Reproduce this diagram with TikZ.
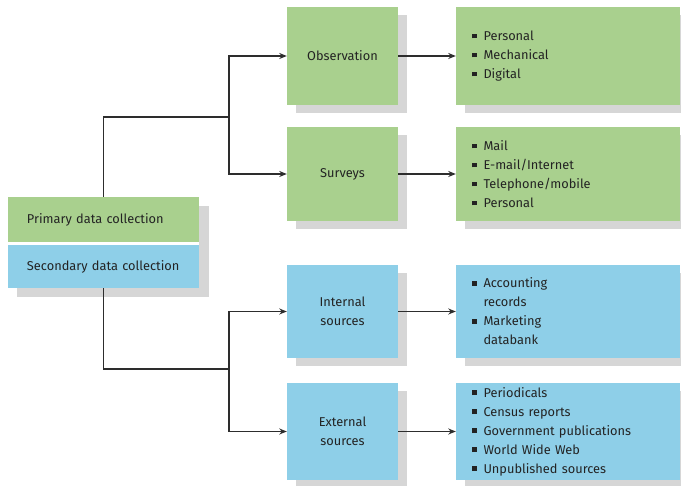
\documentclass[tikz,border=0pt]{standalone}
\usepackage{fontspec}
\setmainfont{Fira Sans}
\usetikzlibrary{arrows.meta,shadows}

\definecolor{boxgreen}{RGB}{169,208,142}
\definecolor{boxblue}{RGB}{142,207,232}
\definecolor{shadowgrey}{RGB}{214,214,214}
\definecolor{inkgrey}{RGB}{35,35,35}
\definecolor{linegrey}{RGB}{45,45,45}

% square list bullet and matching indent for continuation lines
\newcommand\sqbul{\makebox[11.5pt][l]{\rule[2pt]{4.8pt}{4.8pt}}}
\newcommand\sqind{\hspace*{11.5pt}}

\begin{document}
\begin{tikzpicture}[x=1pt,y=-1pt,
  every node/.style={font=\fontsize{12.8}{19}\selectfont, text=inkgrey},
  panel/.style={rectangle, draw=none, inner sep=0pt,
    copy shadow={shadow xshift=9pt, shadow yshift=-8pt, fill=shadowgrey, draw=none}},
  midbox/.style={panel, minimum width=111pt, text width=95pt, align=center},
  listbox/.style={panel, minimum width=224pt, text width=192pt, align=left},
  wire/.style={draw=linegrey, line width=1.3pt},
  arr/.style={wire, -{Stealth[length=7.5pt,width=6pt]}}]

\useasboundingbox (0,0) rectangle (681,486);

% left pair of categories sharing one shadow
\fill[shadowgrey] (17,206) rectangle (209,297);
\fill[white] (8,197) rectangle (199,288);
\node[rectangle, fill=boxgreen, inner sep=0pt, minimum width=191pt, minimum height=45pt,
      text width=153pt, align=left] (prim) at (103.5,219.5) {Primary data collection};
\node[rectangle, fill=boxblue, inner sep=0pt, minimum width=191pt, minimum height=43pt,
      text width=153pt, align=left] (sec) at (103.5,266.5) {Secondary data collection};

% method boxes
\node[midbox, fill=boxgreen, minimum height=98pt] (obs) at (342.5,56) {Observation};
\node[midbox, fill=boxgreen, minimum height=94pt] (sur) at (342.5,174) {Surveys};
\node[midbox, fill=boxblue, minimum height=93pt] (int) at (342.5,311.5) {Internal\\sources};
\node[midbox, fill=boxblue, minimum height=97pt] (ext) at (342.5,431.5) {External\\sources};

% detail lists
\node[listbox, fill=boxgreen, minimum height=98pt] (obsL) at (568,56)
  {\sqbul Personal\\\sqbul Mechanical\\\sqbul Digital};
\node[listbox, fill=boxgreen, minimum height=94pt] (surL) at (568,174)
  {\sqbul Mail\\\sqbul E-mail/Internet\\\sqbul Telephone/mobile\\\sqbul Personal};
\node[listbox, fill=boxblue, minimum height=93pt] (intL) at (568,311.5)
  {\sqbul Accounting\\\sqind records\\\sqbul Marketing\\\sqind databank};
\node[listbox, fill=boxblue, minimum height=97pt] (extL) at (568,431.5)
  {\sqbul Periodicals\\\sqbul Census reports\\\sqbul Government publications\\\sqbul World Wide Web\\\sqbul Unpublished sources};

% branch points
\coordinate (jtop) at (229,117);
\coordinate (jbot) at (229,369);

\draw[wire] (prim.north) |- (jtop);
\draw[arr] (jtop) |- (obs.west);
\draw[arr] (jtop) |- (sur.west);
\draw[wire] (sec.south) |- (jbot);
\draw[arr] (jbot) |- (int.west);
\draw[arr] (jbot) |- (ext.west);

\draw[arr] (obs.east) -- (obsL.west);
\draw[arr] (sur.east) -- (surL.west);
\draw[arr] (int.east) -- (intL.west);
\draw[arr] (ext.east) -- (extL.west);
\end{tikzpicture}
\end{document}
